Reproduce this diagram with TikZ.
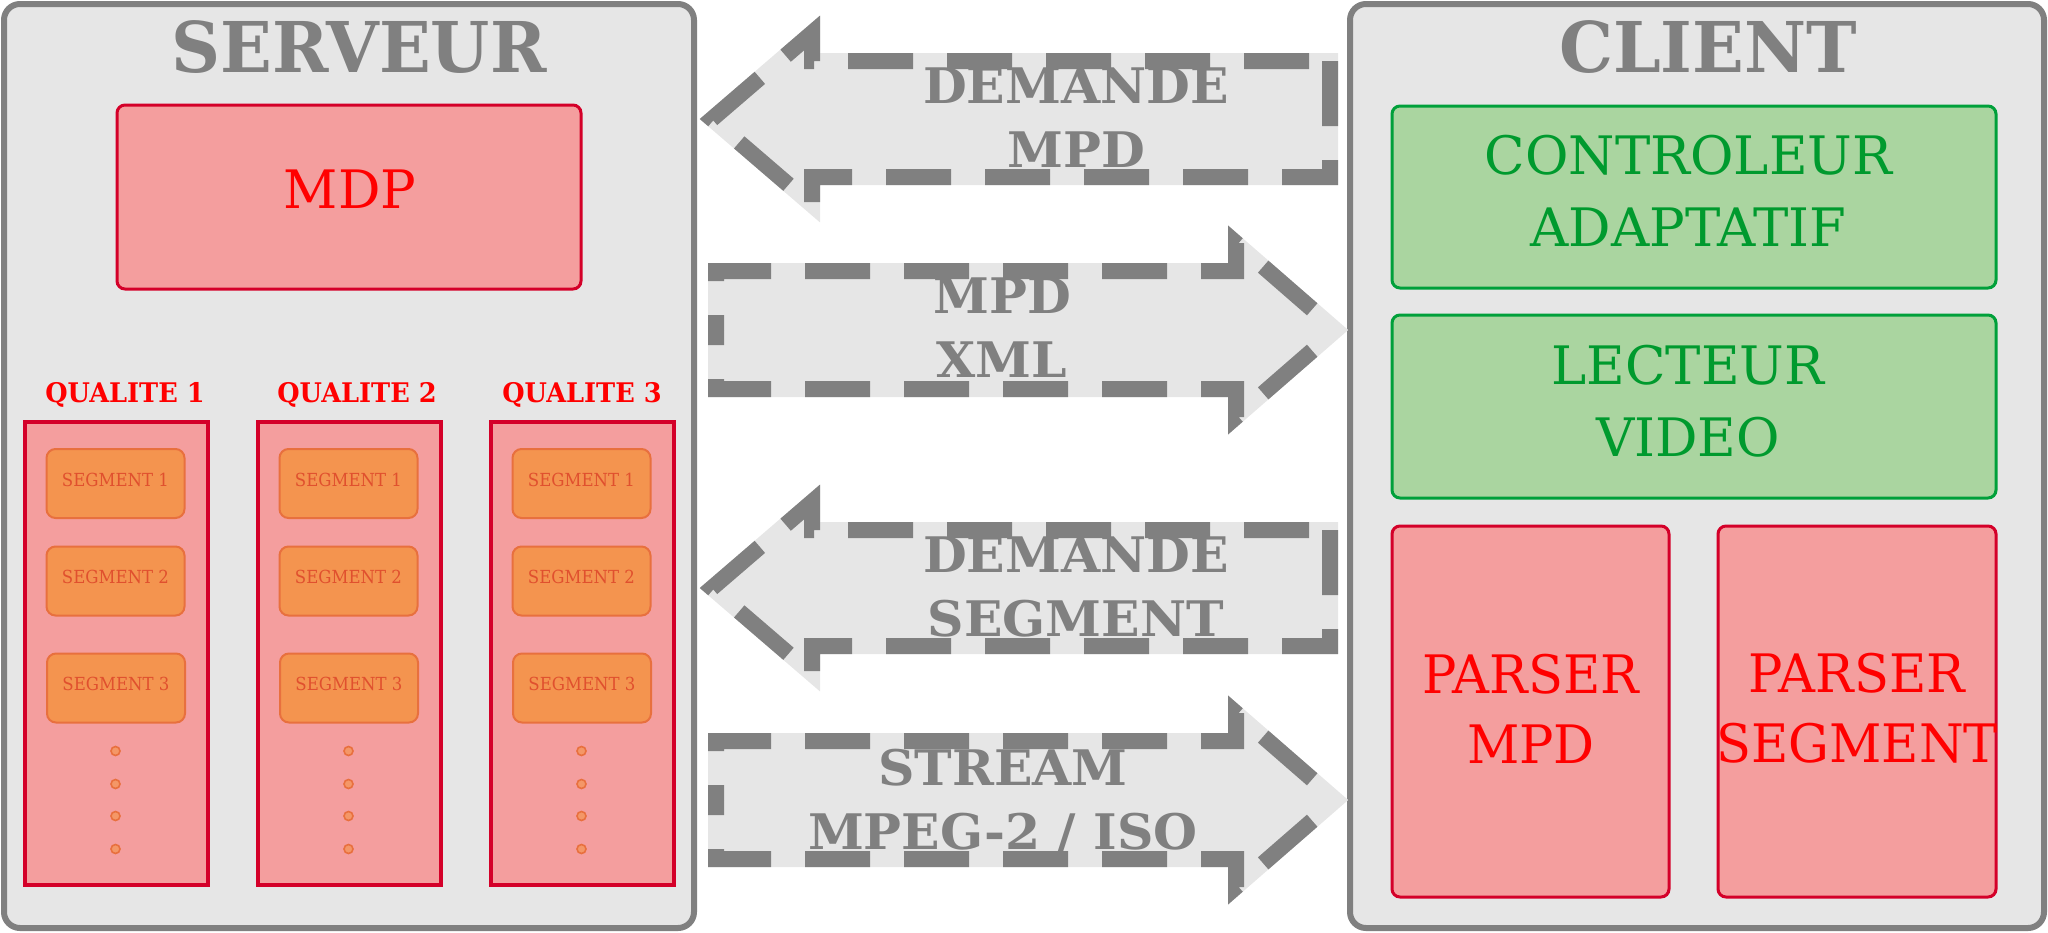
\documentclass[tikz,border=0pt]{standalone}
\usepackage{fontspec}
\setmainfont{DejaVu Serif}
\definecolor{pgray}{HTML}{808080}
\definecolor{pbg}{HTML}{E6E6E6}
\definecolor{rfill}{HTML}{F49E9E}
\definecolor{rborder}{HTML}{D40029}
\definecolor{rtext}{HTML}{FF0000}
\definecolor{gfill}{HTML}{AAD5A0}
\definecolor{gborder}{HTML}{00A03A}
\definecolor{gtext}{HTML}{009A2E}
\definecolor{sfill}{HTML}{F4944F}
\definecolor{sborder}{HTML}{E8703E}
\definecolor{stext}{HTML}{E0502E}
\newcommand\myfs[2]{\fontsize{#1}{#2}\selectfont}
\newcommand\mystretch[1]{\addfontfeatures{FakeStretch=#1}}
\begin{document}
\begin{tikzpicture}[x=1pt,y=-1pt,
  panel/.style={draw=pgray,fill=pbg,line width=6pt,rounded corners=16pt},
  redbox/.style={draw=rborder,fill=rfill,line width=3pt,rounded corners=8pt},
  greenbox/.style={draw=gborder,fill=gfill,line width=3pt,rounded corners=8pt},
  colbox/.style={draw=rborder,fill=rfill,line width=4pt},
  segbox/.style={draw=sborder,fill=sfill,line width=2pt,rounded corners=9pt,inner sep=0pt,
     minimum width=138pt,minimum height=69pt},
  segtxt/.style={text=stext,font=\mystretch{0.92}\myfs{18}{22},anchor=base,inner sep=0pt},
  dotc/.style={circle,draw=sborder,fill=sfill!70!rfill,line width=1.6pt,inner sep=0pt,minimum size=9pt},
  titletxt/.style={text=pgray,font=\bfseries\mystretch{0.97}\myfs{70}{80},anchor=base,inner sep=0pt},
  qualtxt/.style={text=rtext,font=\bfseries\mystretch{0.95}\myfs{27}{30},anchor=base,inner sep=0pt},
  bigred/.style={text=rtext,font=\myfs{53}{70},align=center,inner sep=0pt},
  parsertxt/.style={text=rtext,font=\mystretch{0.965}\myfs{53}{70},align=center,inner sep=0pt},
  biggreen/.style={text=gtext,font=\myfs{53}{72},align=center,inner sep=0pt},
  arrtxt/.style={text=pgray,font=\bfseries\mystretch{1.03}\myfs{49}{64},align=center,inner sep=0pt},
  arrbg/.style={fill=pbg,draw=pbg,line width=16pt,line join=miter},
  arrdash/.style={draw=pgray,line width=16pt,line join=miter,dash pattern=on 65pt off 34pt}
]
\useasboundingbox (0,0) rectangle (2048,932);
% panels
\draw[panel] (4,4) rectangle (694,928);
\draw[panel] (1350,4) rectangle (2044,928);
\node[titletxt] (tserv) at (359,72) {SERVEUR};
\node[titletxt] (tcli) at (1708,72) {CLIENT};
% server
\node[redbox,minimum width=464pt,minimum height=184pt] (mdp) at (349,197) {};
\node[bigred,anchor=base] (mdpt) at (350,208) {MDP};
\foreach \i/\cx/\qx in {1/116.5/125,2/349.5/357,3/582.5/582}{
  \node[colbox,minimum width=183pt,minimum height=463pt] (col\i) at (\cx,653) {};
  \node[qualtxt] (q\i) at (\qx,402) {QUALITE \i};
  \node[segbox] (s\i a) at (\cx-1,483.5) {};
  \node[segtxt] at ([yshift=-2.5pt]s\i a.center) {SEGMENT 1};
  \node[segbox] (s\i b) at (\cx-1,581) {};
  \node[segtxt] at ([yshift=-2.5pt]s\i b.center) {SEGMENT 2};
  \node[segbox] (s\i c) at (\cx-0.5,688) {};
  \node[segtxt] at ([yshift=-2.5pt]s\i c.center) {SEGMENT 3};
  \foreach \j/\dy in {1/751,2/784,3/816,4/849}{
    \node[dotc] (d\i\j) at (\cx-1,\dy) {};
  }
}
% client
\node[greenbox,minimum width=604pt,minimum height=182pt] (ctrl) at (1694,197) {};
\node[biggreen] (ctrlt) at (1688.5,191) {CONTROLEUR\\ADAPTATIF};
\node[greenbox,minimum width=604pt,minimum height=183pt] (lect) at (1694,406.5) {};
\node[biggreen] (lectt) at (1688,401) {LECTEUR\\VIDEO};
\node[redbox,minimum width=277pt,minimum height=371pt] (pmpd) at (1530.5,711.5) {};
\node[parsertxt] (pmpdt) at (1531,708.5) {PARSER\\MPD};
\node[redbox,minimum width=278pt,minimum height=371pt] (pseg) at (1857,711.5) {};
\node[parsertxt] (psegt) at (1857,708.5) {PARSER\\SEGMENT};
% arrows pointing to the server
\foreach \cy in {119,588}{
  \path[arrbg] (1330,\cy-58) -- (1330,\cy+58) -- (812,\cy+58) -- (812,\cy+86) -- (712,\cy) -- (812,\cy-86) -- (812,\cy-58) -- cycle;
  \path[arrdash] (1330,\cy-58) -- (1330,\cy+58) -- (812,\cy+58) -- (812,\cy+86) -- (712,\cy) -- (812,\cy-86) -- (812,\cy-58) -- cycle;
}
% arrows pointing to the client
\foreach \cy in {330,800}{
  \path[arrbg] (716,\cy-59) -- (1236,\cy-59) -- (1236,\cy-87) -- (1336,\cy) -- (1236,\cy+87) -- (1236,\cy+59) -- (716,\cy+59) -- cycle;
  \path[arrdash,dash phase=50pt] (716,\cy) -- (716,\cy-59) -- (1236,\cy-59) -- (1236,\cy-87) -- (1336,\cy);
  \path[arrdash,dash phase=50pt] (716,\cy) -- (716,\cy+59) -- (1236,\cy+59) -- (1236,\cy+87) -- (1336,\cy);
}
\node[arrtxt] (a1) at (1076,118) {DEMANDE\\MPD};
\node[arrtxt] (a2) at (1002,327.5) {MPD\\XML};
\node[arrtxt] (a3) at (1076,587) {DEMANDE\\SEGMENT};
\node[arrtxt] (a4) at (1003,802) {STREAM\\MPEG-2 / ISO};
\end{tikzpicture}
\end{document}
